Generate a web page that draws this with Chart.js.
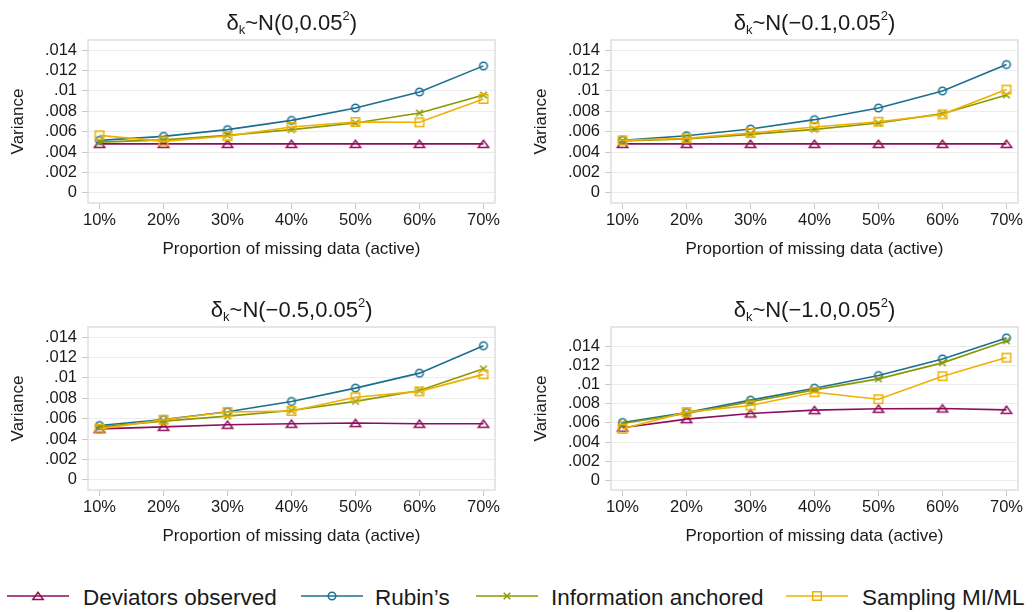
<!DOCTYPE html>
<html>
<head>
<meta charset="utf-8">
<script src="https://cdn.jsdelivr.net/npm/chart.js@4.4.1/dist/chart.umd.min.js"></script>
<style>
  html, body { margin: 0; padding: 0; background: #fff; }
  body { width: 1035px; height: 612px; position: relative; overflow: hidden;
         font-family: "Liberation Sans", Arial, sans-serif; color: #1a1a1a; }
  canvas { position: absolute; }
  .ptitle { position: absolute; font-size: 22px; line-height: 22px; white-space: nowrap; transform: translateX(-50%); }
  .ptitle sub { font-size: 13px; line-height: 0; vertical-align: -4px; }
  .ptitle sup { font-size: 13px; line-height: 0; vertical-align: 10px; }
  .leg { position: absolute; font-size: 22.5px; line-height: 22px; white-space: nowrap; top: 587px; }
</style>
</head>
<body>
<canvas id="p1" width="520" height="265" style="left:0px;top:0px"></canvas>
<canvas id="p2" width="515" height="265" style="left:520px;top:0px"></canvas>
<canvas id="p3" width="520" height="265" style="left:0px;top:287px"></canvas>
<canvas id="p4" width="515" height="265" style="left:520px;top:287px"></canvas>

<div class="ptitle" style="left:291.7px;top:11.8px">δ<sub>k</sub>~N(0,0.05<sup>2</sup>)</div>
<div class="ptitle" style="left:814.5px;top:11.8px">δ<sub>k</sub>~N(−0.1,0.05<sup>2</sup>)</div>
<div class="ptitle" style="left:291.7px;top:298.8px">δ<sub>k</sub>~N(−0.5,0.05<sup>2</sup>)</div>
<div class="ptitle" style="left:814.5px;top:298.8px">δ<sub>k</sub>~N(−1.0,0.05<sup>2</sup>)</div>

<div id="legend"></div>

<script>
// categories and ticks
const pctLabels = ['10%', '20%', '30%', '40%', '50%', '60%', '70%'];
const yTickValues = [0, 0.002, 0.004, 0.006, 0.008, 0.01, 0.012, 0.014];
const yTickLabels = ['0', '.002', '.004', '.006', '.008', '.01', '.012', '.014'];

const seriesNames = ['Deviators observed', 'Rubin’s', 'Information anchored', 'Sampling MI/ML'];
const seriesColors = ['#8e0e5d', '#1b6f8e', '#8c9800', '#eeb000'];
const seriesShapes = ['triangle', 'circle', 'cross', 'square'];

// delta ~ N(0, 0.05^2)
const dev_m0 = [0.0048, 0.0048, 0.0048, 0.0048, 0.0048, 0.0048, 0.0048];
const rub_m0 = [0.00515, 0.00554, 0.0062, 0.00711, 0.00833, 0.0099, 0.01246];
const inf_m0 = [0.00498, 0.0052, 0.00564, 0.0062, 0.00685, 0.00784, 0.0096];
const sam_m0 = [0.00564, 0.00505, 0.00557, 0.00646, 0.00695, 0.00692, 0.00921];

// delta ~ N(-0.1, 0.05^2)
const dev_m01 = [0.0048, 0.0048, 0.0048, 0.0048, 0.0048, 0.0048, 0.0048];
const rub_m01 = [0.00515, 0.0056, 0.00626, 0.00718, 0.00833, 0.01, 0.01259];
const inf_m01 = [0.00508, 0.00528, 0.00574, 0.00623, 0.00685, 0.00777, 0.0096];
const sam_m01 = [0.00515, 0.00534, 0.00587, 0.00646, 0.00698, 0.0077, 0.01013];

// delta ~ N(-0.5, 0.05^2)
const dev_m05 = [0.005, 0.0052, 0.0054, 0.0055, 0.00557, 0.0055, 0.0055];
const rub_m05 = [0.00533, 0.00592, 0.00668, 0.00769, 0.009, 0.01047, 0.01316];
const inf_m05 = [0.0052, 0.00576, 0.00625, 0.0068, 0.0077, 0.00877, 0.0109];
const sam_m05 = [0.005, 0.0059, 0.00665, 0.00675, 0.0081, 0.00868, 0.01035];

// delta ~ N(-1.0, 0.05^2)
const dev_m10 = [0.0055, 0.00639, 0.00698, 0.00733, 0.00747, 0.0075, 0.00736];
const rub_m10 = [0.00604, 0.00708, 0.00837, 0.00962, 0.01094, 0.01267, 0.01486];
const inf_m10 = [0.00594, 0.00698, 0.0082, 0.00944, 0.01059, 0.01226, 0.01455];
const sam_m10 = [0.00538, 0.00712, 0.00781, 0.0092, 0.00847, 0.01087, 0.01281];

const FONT = '"Liberation Sans", Arial, sans-serif';
const TEXT = '#1a1a1a';

//  hollow stata-like markers
function drawMarker(ctx, shape, color, cx, cy) {
  ctx.save();
  ctx.strokeStyle = color;
  ctx.lineWidth = 1.5;
  ctx.beginPath();
  if (shape === 'triangle') {
    ctx.moveTo(cx - 5.2, cy + 3.6);
    ctx.lineTo(cx + 5.2, cy + 3.6);
    ctx.lineTo(cx, cy - 3.8);
    ctx.closePath();
  } else if (shape === 'circle') {
    ctx.arc(cx, cy, 3.8, 0, Math.PI * 2);
  } else if (shape === 'cross') {
    ctx.moveTo(cx - 3.3, cy - 3.3); ctx.lineTo(cx + 3.3, cy + 3.3);
    ctx.moveTo(cx + 3.3, cy - 3.3); ctx.lineTo(cx - 3.3, cy + 3.3);
  } else {
    ctx.rect(cx - 4.3, cy - 4.3, 8.6, 8.6);
  }
  ctx.stroke();
  ctx.restore();
}

function markerCanvas(shape, color) {
  const c = document.createElement('canvas');
  c.width = 16; c.height = 16;
  drawMarker(c.getContext('2d'), shape, color, 8, 8);
  return c;
}

const markers = seriesShapes.map((s, i) => markerCanvas(s, seriesColors[i]));

//  light frame round the plot region
const boxPlugin = {
  id: 'plotBox',
  beforeDatasetsDraw(chart) {
    const { ctx, chartArea: a } = chart;
    ctx.save();
    ctx.strokeStyle = '#dedede';
    ctx.lineWidth = 1.5;
    ctx.strokeRect(a.left, a.top, a.right - a.left, a.bottom - a.top);
    ctx.restore();
  }
};

function makePanel(id, series, o) {
  const ctx = document.getElementById(id).getContext('2d');
  return new Chart(ctx, {
    type: 'line',
    data: {
      datasets: series.map((vals, i) => ({
        label: seriesNames[i],
        data: vals.map((v, j) => ({ x: j + 1, y: v })),
        borderColor: seriesColors[i],
        backgroundColor: seriesColors[i],
        borderWidth: 1.6,
        pointStyle: markers[i],
        pointRadius: 5,
        pointHoverRadius: 5,
        fill: false,
        tension: 0,
        order: series.length - i
      }))
    },
    options: {
      responsive: false,
      animation: false,
      events: [],
      layout: { padding: { left: 0, top: 40, right: o.padRight, bottom: 0 } },
      plugins: { legend: { display: false }, tooltip: { enabled: false } },
      scales: {
        x: {
          type: 'linear',
          min: 0.82,
          max: 7.18,
          afterBuildTicks: sc => { sc.ticks = pctLabels.map((l, j) => ({ value: j + 1 })); },
          afterFit: sc => { sc.height = 62; },
          ticks: {
            callback: (v, i) => pctLabels[i],
            font: { family: FONT, size: 16.5 },
            color: TEXT,
            padding: 2,
            maxRotation: 0,
            autoSkip: false
          },
          grid: { drawOnChartArea: false, tickLength: 6, tickColor: '#c8c8c8' },
          border: { display: false },
          title: {
            display: true,
            text: 'Proportion of missing data (active)',
            font: { family: FONT, size: 17 },
            color: TEXT,
            padding: { top: 0, bottom: 5 }
          }
        },
        y: {
          min: -0.001,
          max: o.yMax,
          afterBuildTicks: sc => { sc.ticks = yTickValues.map(v => ({ value: v })); },
          afterFit: sc => { sc.width = o.axisW; },
          ticks: {
            callback: (v, i) => yTickLabels[i],
            font: { family: FONT, size: 16.5 },
            color: TEXT,
            padding: 5
          },
          grid: { color: '#ececec', lineWidth: 1, tickLength: 6, tickColor: '#c8c8c8' },
          border: { display: false },
          title: {
            display: true,
            text: 'Variance',
            font: { family: FONT, size: 17 },
            color: TEXT,
            padding: { top: o.titlePad, bottom: 0 }
          }
        }
      }
    },
    plugins: [boxPlugin]
  });
}

makePanel('p1', [dev_m0, rub_m0, inf_m0, sam_m0], { padRight: 25, axisW: 88, titlePad: 8, yMax: 0.015 });
makePanel('p2', [dev_m01, rub_m01, inf_m01, sam_m01], { padRight: 17, axisW: 91, titlePad: 11, yMax: 0.015 });
makePanel('p3', [dev_m05, rub_m05, inf_m05, sam_m05], { padRight: 25, axisW: 88, titlePad: 8, yMax: 0.015 });
makePanel('p4', [dev_m10, rub_m10, inf_m10, sam_m10], { padRight: 17, axisW: 91, titlePad: 11, yMax: 0.016 });

//  shared legend at the bottom
const legendKeyX = [7, 301, 476, 786];
const legendTextX = [83, 375, 551, 862];
const legendBox = document.getElementById('legend');
seriesNames.forEach((name, i) => {
  const key = document.createElement('canvas');
  key.width = 62; key.height = 20;
  key.style.left = legendKeyX[i] + 'px';
  key.style.top = '586px';
  const kctx = key.getContext('2d');
  kctx.strokeStyle = seriesColors[i];
  kctx.lineWidth = 1.7;
  kctx.beginPath();
  kctx.moveTo(0, 10);
  kctx.lineTo(62, 10);
  kctx.stroke();
  drawMarker(kctx, seriesShapes[i], seriesColors[i], 31, 10);
  legendBox.appendChild(key);

  const label = document.createElement('div');
  label.className = 'leg';
  label.style.left = legendTextX[i] + 'px';
  label.textContent = name;
  legendBox.appendChild(label);
});
</script>
</body>
</html>
